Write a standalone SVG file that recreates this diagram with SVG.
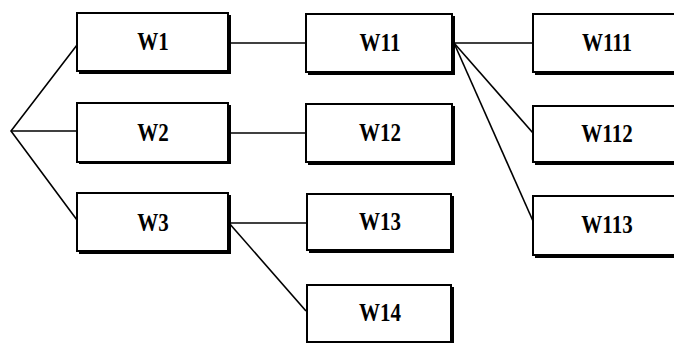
<svg xmlns="http://www.w3.org/2000/svg" width="674" height="343" viewBox="0 0 674 343">
<style>
.sh{fill:#000}
.bx{fill:#fff;stroke:#000;stroke-width:2}
.t{font-family:"Liberation Serif","Times New Roman",serif;font-weight:bold;font-size:21px;fill:#000;text-anchor:middle}
.c{stroke:#000;stroke-width:1.6;fill:none}
</style>
<rect width="674" height="343" fill="#fff"/>
<g id="connectors">
<polyline class="c" points="77,45 11,131 77,220"/>
<line class="c" x1="11" y1="131" x2="77" y2="131"/>
<line class="c" x1="229" y1="43" x2="306" y2="43"/>
<line class="c" x1="229" y1="133" x2="306" y2="133"/>
<line class="c" x1="229" y1="223" x2="307" y2="223"/>
<line class="c" x1="229" y1="223" x2="306" y2="311"/>
<line class="c" x1="454" y1="43" x2="533" y2="43"/>
<line class="c" x1="454" y1="43" x2="533" y2="133"/>
<line class="c" x1="454" y1="43" x2="533" y2="221"/>
</g>
<g id="W1"><rect class="sh" x="79" y="15" width="152" height="59"/><rect class="bx" x="77" y="13" width="151" height="58"/><text class="t" transform="translate(153,50) scale(1,1.2)">W1</text></g>
<g id="W2"><rect class="sh" x="79" y="105" width="152" height="59"/><rect class="bx" x="77" y="103" width="151" height="59"/><text class="t" transform="translate(153,141) scale(1,1.2)">W2</text></g>
<g id="W3"><rect class="sh" x="79" y="195" width="152" height="59"/><rect class="bx" x="77" y="193" width="151" height="58"/><text class="t" transform="translate(153,231) scale(1,1.2)">W3</text></g>
<g id="W11"><rect class="sh" x="308" y="16" width="147" height="59"/><rect class="bx" x="306" y="14" width="146" height="58"/><text class="t" transform="translate(380,51) scale(1,1.2)">W11</text></g>
<g id="W12"><rect class="sh" x="308" y="106" width="147" height="59"/><rect class="bx" x="306" y="104" width="146" height="58"/><text class="t" transform="translate(380,141) scale(1,1.2)">W12</text></g>
<g id="W13"><rect class="sh" x="309" y="196" width="145" height="57"/><rect class="bx" x="307" y="194" width="144" height="56"/><text class="t" transform="translate(380,230) scale(1,1.2)">W13</text></g>
<g id="W14"><rect class="sh" x="309" y="287" width="145" height="58"/><rect class="bx" x="307" y="285" width="144" height="57"/><text class="t" transform="translate(380,321) scale(1,1.2)">W14</text></g>
<g id="W111"><rect class="sh" x="535" y="16" width="150" height="59"/><rect class="bx" x="533" y="14" width="149" height="58"/><text class="t" transform="translate(607,51) scale(1,1.2)">W111</text></g>
<g id="W112"><rect class="sh" x="535" y="108" width="150" height="57"/><rect class="bx" x="533" y="106" width="149" height="56"/><text class="t" transform="translate(607,142) scale(1,1.2)">W112</text></g>
<g id="W113"><rect class="sh" x="535" y="198" width="150" height="60"/><rect class="bx" x="533" y="196" width="149" height="59"/><text class="t" transform="translate(607,233) scale(1,1.2)">W113</text></g>
</svg>
